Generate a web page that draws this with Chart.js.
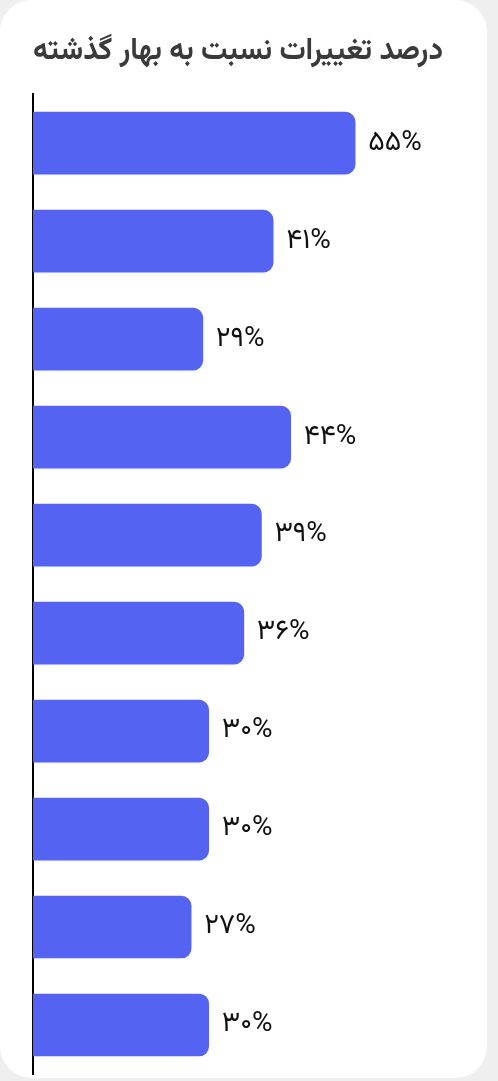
<!DOCTYPE html>
<html lang="fa">
<head>
<meta charset="utf-8">
<script src="https://cdn.jsdelivr.net/npm/chart.js@4.4.1/dist/chart.umd.min.js"></script>
<style>
  html, body { margin: 0; padding: 0; background: #efefef; width: 498px; height: 1081px; overflow: hidden; }
  #card { position: absolute; left: 0; top: 0; width: 487px; height: 1078px; background: #ffffff; border-radius: 32px; overflow: hidden; }
  #c { position: absolute; left: 0; top: 0; }
</style>
</head>
<body>
<div id="card"><canvas id="c" width="487" height="1078"></canvas></div>
<script>
// ---- data ----
const titleText = 'درصد تغییرات نسبت به بهار گذشته';
const categories = ['1', '2', '3', '4', '5', '6', '7', '8', '9', '10'];
const values = [55, 41, 29, 44, 39, 36, 30, 30, 27, 30];
const persianDigits = ['۰','۱','۲','۳','۴','۵','۶','۷','۸','۹'];
const valueLabels = values.map(v => String(v).replace(/\d/g, d => persianDigits[+d]) + '%');

const FONT = "'Vazirmatn', 'Noto Sans Arabic', 'DejaVu Sans', sans-serif";

const valueLabelPlugin = {
  id: 'valueLabels',
  afterDatasetsDraw(chart) {
    const ctx = chart.ctx;
    const meta = chart.getDatasetMeta(0);
    ctx.save();
    ctx.font = '28px ' + FONT;
    ctx.fillStyle = '#111111';
    ctx.textAlign = 'left';
    ctx.textBaseline = 'middle';
    ctx.direction = 'ltr';
    meta.data.forEach((bar, i) => {
      ctx.fillText(valueLabels[i], bar.x + 13, bar.y + 2);
    });
    ctx.restore();
  }
};

new Chart(document.getElementById('c'), {
  type: 'bar',
  data: {
    labels: categories,
    datasets: [{
      data: values,
      backgroundColor: '#5563F2',
      borderWidth: 0,
      borderSkipped: 'start',
      borderRadius: { topLeft: 0, bottomLeft: 0, topRight: 10, bottomRight: 10 },
      barThickness: 62
    }]
  },
  options: {
    indexAxis: 'y',
    responsive: false,
    animation: false,
    devicePixelRatio: 1,
    layout: { padding: { left: 33, right: 44, top: 0, bottom: 4 } },
    plugins: {
      legend: { display: false },
      tooltip: { enabled: false },
      title: {
        display: true,
        text: titleText,
        color: '#3a3a3a',
        font: { family: FONT, size: 31, weight: 'bold' },
        padding: { top: 36, bottom: 21 }
      }
    },
    scales: {
      x: { display: false, min: 0, max: 70 },
      y: {
        display: true,
        ticks: { display: false },
        grid: { display: false, drawTicks: false },
        border: { display: true, color: '#000000', width: 2 }
      }
    }
  },
  plugins: [valueLabelPlugin]
});
</script>
</body>
</html>
